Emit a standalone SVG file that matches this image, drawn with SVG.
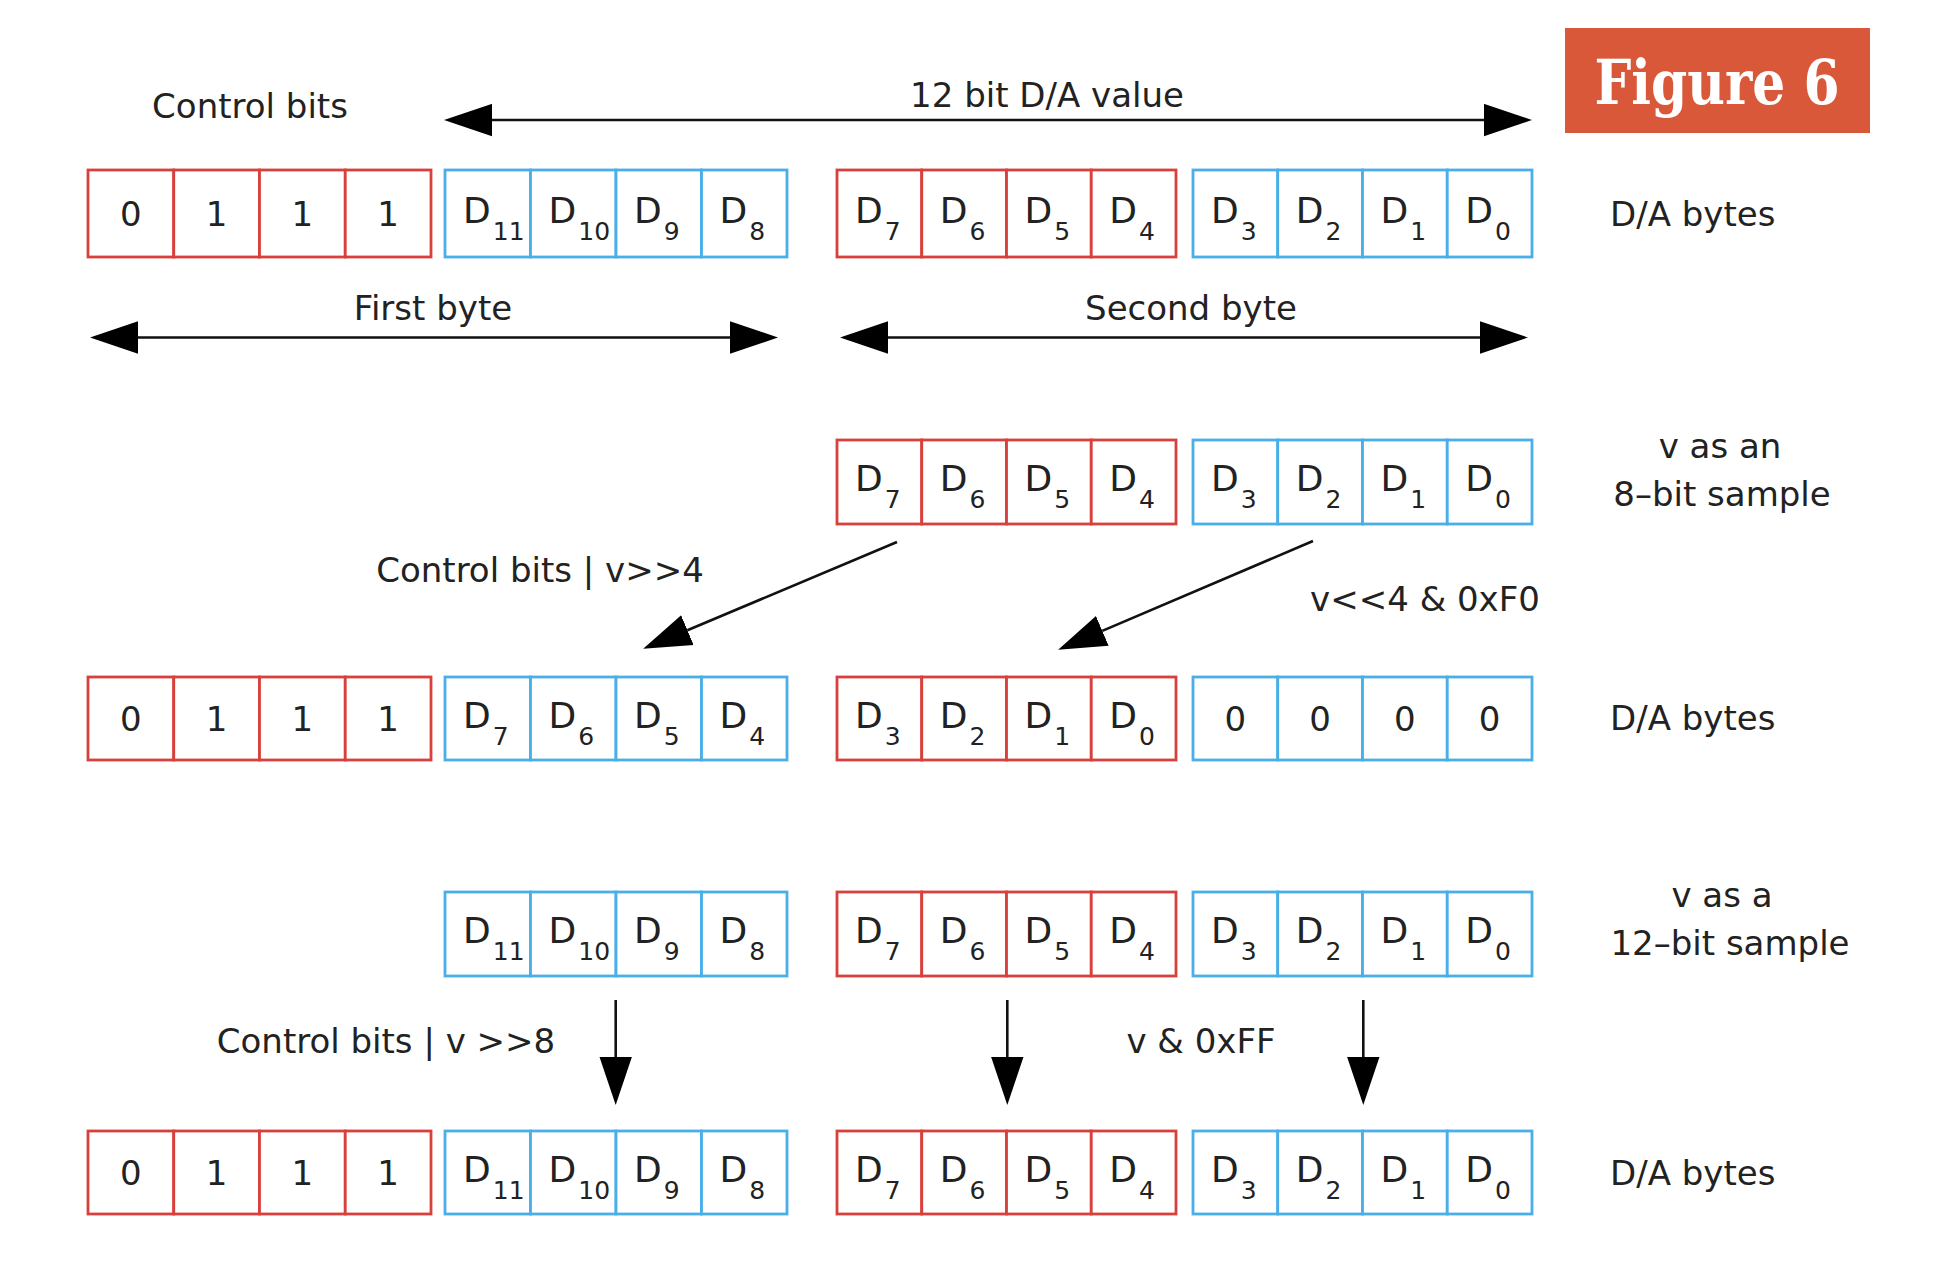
<svg xmlns="http://www.w3.org/2000/svg" width="1938" height="1272" viewBox="0 0 1938 1272">
<style>
.r{fill:#fff;stroke:#d8403c;stroke-width:2.8}
.b{fill:#fff;stroke:#4aaee8;stroke-width:2.8}
text{font-family:"DejaVu Sans","Liberation Sans",sans-serif;fill:#222}
.l{font-size:34px}
.m{text-anchor:middle}
.c{font-size:36px}
.d{font-size:34px;text-anchor:middle}
.s{font-size:25px}
.ln{stroke:#111;stroke-width:2.6;fill:none}
.fig{font-family:"DejaVu Serif","Liberation Serif",serif;font-weight:bold;font-size:62px;fill:#fff}
</style>
<defs>
<marker id="ah" markerUnits="userSpaceOnUse" markerWidth="48" markerHeight="33" viewBox="0 0 46 31" refX="0" refY="15.5" orient="auto-start-reverse">
<path d="M0,0 L46,15.5 L0,31 z" fill="#000"/>
</marker>
</defs>
<rect width="1938" height="1272" fill="#fff"/>

<g id="figure-label">
<rect x="1565" y="28" width="305" height="105" fill="#d95839"/>
<text class="fig" x="1717" y="104" text-anchor="middle" textLength="245" lengthAdjust="spacingAndGlyphs">Figure 6</text>
</g>

<g id="labels">
<text class="l m" x="250" y="118">Control bits</text>
<text class="l m" x="1047" y="107">12 bit D/A value</text>
<text class="l m" x="433" y="320">First byte</text>
<text class="l m" x="1191" y="320">Second byte</text>
<text class="l" x="1610" y="226">D/A bytes</text>
<text class="l m" x="1720" y="458">v as an</text>
<text class="l m" x="1722" y="506">8–bit sample</text>
<text class="l m" x="540" y="582">Control bits | v&gt;&gt;4</text>
<text class="l m" x="1425" y="611">v&lt;&lt;4 &amp; 0xF0</text>
<text class="l" x="1610" y="730">D/A bytes</text>
<text class="l m" x="1722" y="907">v as a</text>
<text class="l m" x="1730" y="955">12–bit sample</text>
<text class="l m" x="386" y="1053">Control bits | v &gt;&gt;8</text>
<text class="l m" x="1201" y="1053">v &amp; 0xFF</text>
<text class="l" x="1610" y="1185">D/A bytes</text>
</g>

<g id="connectors">
<line class="ln" x1="492" y1="120" x2="1484" y2="120" marker-start="url(#ah)" marker-end="url(#ah)"/>
<line class="ln" x1="138" y1="337.5" x2="730" y2="337.5" marker-start="url(#ah)" marker-end="url(#ah)"/>
<line class="ln" x1="888" y1="337.5" x2="1480" y2="337.5" marker-start="url(#ah)" marker-end="url(#ah)"/>
<line class="ln" x1="897" y1="542" x2="687.4" y2="630.2" marker-end="url(#ah)"/>
<line class="ln" x1="1313" y1="541" x2="1102.3" y2="630.9" marker-end="url(#ah)"/>
<line class="ln" x1="615.7" y1="1000" x2="615.7" y2="1057" marker-end="url(#ah)"/>
<line class="ln" x1="1007.3" y1="1000" x2="1007.3" y2="1057" marker-end="url(#ah)"/>
<line class="ln" x1="1363.3" y1="1000" x2="1363.3" y2="1057" marker-end="url(#ah)"/>
</g>

<!-- Row 1 -->
<g id="r1-control">
<rect class="r" x="88" y="170" width="85.75" height="87"/><rect class="r" x="173.75" y="170" width="85.75" height="87"/><rect class="r" x="259.5" y="170" width="85.75" height="87"/><rect class="r" x="345.25" y="170" width="85.75" height="87"/>
<text class="d" x="130.9" y="225.5">0</text><text class="d" x="216.6" y="225.5">1</text><text class="d" x="302.4" y="225.5">1</text><text class="d" x="388.1" y="225.5">1</text>
</g>
<g id="r1-high">
<rect class="b" x="445" y="170" width="85.5" height="87"/><rect class="b" x="530.5" y="170" width="85.5" height="87"/><rect class="b" x="616" y="170" width="85.5" height="87"/><rect class="b" x="701.5" y="170" width="85.5" height="87"/>
<text class="c" x="463" y="223">D<tspan class="s" dx="2" dy="17">11</tspan></text><text class="c" x="548.5" y="223">D<tspan class="s" dx="2" dy="17">10</tspan></text><text class="c" x="634" y="223">D<tspan class="s" dx="2" dy="17">9</tspan></text><text class="c" x="719.5" y="223">D<tspan class="s" dx="2" dy="17">8</tspan></text>
</g>
<g id="r1-mid">
<rect class="r" x="837" y="170" width="84.75" height="87"/><rect class="r" x="921.75" y="170" width="84.75" height="87"/><rect class="r" x="1006.5" y="170" width="84.75" height="87"/><rect class="r" x="1091.25" y="170" width="84.75" height="87"/>
<text class="c" x="855" y="223">D<tspan class="s" dx="2" dy="17">7</tspan></text><text class="c" x="939.75" y="223">D<tspan class="s" dx="2" dy="17">6</tspan></text><text class="c" x="1024.5" y="223">D<tspan class="s" dx="2" dy="17">5</tspan></text><text class="c" x="1109.25" y="223">D<tspan class="s" dx="2" dy="17">4</tspan></text>
</g>
<g id="r1-low">
<rect class="b" x="1193" y="170" width="84.75" height="87"/><rect class="b" x="1277.75" y="170" width="84.75" height="87"/><rect class="b" x="1362.5" y="170" width="84.75" height="87"/><rect class="b" x="1447.25" y="170" width="84.75" height="87"/>
<text class="c" x="1211" y="223">D<tspan class="s" dx="2" dy="17">3</tspan></text><text class="c" x="1295.75" y="223">D<tspan class="s" dx="2" dy="17">2</tspan></text><text class="c" x="1380.5" y="223">D<tspan class="s" dx="2" dy="17">1</tspan></text><text class="c" x="1465.25" y="223">D<tspan class="s" dx="2" dy="17">0</tspan></text>
</g>

<!-- Row 2 -->
<g id="r2-high">
<rect class="r" x="837" y="440" width="84.75" height="84"/><rect class="r" x="921.75" y="440" width="84.75" height="84"/><rect class="r" x="1006.5" y="440" width="84.75" height="84"/><rect class="r" x="1091.25" y="440" width="84.75" height="84"/>
<text class="c" x="855" y="491">D<tspan class="s" dx="2" dy="17">7</tspan></text><text class="c" x="939.75" y="491">D<tspan class="s" dx="2" dy="17">6</tspan></text><text class="c" x="1024.5" y="491">D<tspan class="s" dx="2" dy="17">5</tspan></text><text class="c" x="1109.25" y="491">D<tspan class="s" dx="2" dy="17">4</tspan></text>
</g>
<g id="r2-low">
<rect class="b" x="1193" y="440" width="84.75" height="84"/><rect class="b" x="1277.75" y="440" width="84.75" height="84"/><rect class="b" x="1362.5" y="440" width="84.75" height="84"/><rect class="b" x="1447.25" y="440" width="84.75" height="84"/>
<text class="c" x="1211" y="491">D<tspan class="s" dx="2" dy="17">3</tspan></text><text class="c" x="1295.75" y="491">D<tspan class="s" dx="2" dy="17">2</tspan></text><text class="c" x="1380.5" y="491">D<tspan class="s" dx="2" dy="17">1</tspan></text><text class="c" x="1465.25" y="491">D<tspan class="s" dx="2" dy="17">0</tspan></text>
</g>

<!-- Row 3 -->
<g id="r3-control">
<rect class="r" x="88" y="677" width="85.75" height="83"/><rect class="r" x="173.75" y="677" width="85.75" height="83"/><rect class="r" x="259.5" y="677" width="85.75" height="83"/><rect class="r" x="345.25" y="677" width="85.75" height="83"/>
<text class="d" x="130.9" y="730.5">0</text><text class="d" x="216.6" y="730.5">1</text><text class="d" x="302.4" y="730.5">1</text><text class="d" x="388.1" y="730.5">1</text>
</g>
<g id="r3-high">
<rect class="b" x="445" y="677" width="85.5" height="83"/><rect class="b" x="530.5" y="677" width="85.5" height="83"/><rect class="b" x="616" y="677" width="85.5" height="83"/><rect class="b" x="701.5" y="677" width="85.5" height="83"/>
<text class="c" x="463" y="728">D<tspan class="s" dx="2" dy="17">7</tspan></text><text class="c" x="548.5" y="728">D<tspan class="s" dx="2" dy="17">6</tspan></text><text class="c" x="634" y="728">D<tspan class="s" dx="2" dy="17">5</tspan></text><text class="c" x="719.5" y="728">D<tspan class="s" dx="2" dy="17">4</tspan></text>
</g>
<g id="r3-mid">
<rect class="r" x="837" y="677" width="84.75" height="83"/><rect class="r" x="921.75" y="677" width="84.75" height="83"/><rect class="r" x="1006.5" y="677" width="84.75" height="83"/><rect class="r" x="1091.25" y="677" width="84.75" height="83"/>
<text class="c" x="855" y="728">D<tspan class="s" dx="2" dy="17">3</tspan></text><text class="c" x="939.75" y="728">D<tspan class="s" dx="2" dy="17">2</tspan></text><text class="c" x="1024.5" y="728">D<tspan class="s" dx="2" dy="17">1</tspan></text><text class="c" x="1109.25" y="728">D<tspan class="s" dx="2" dy="17">0</tspan></text>
</g>
<g id="r3-low">
<rect class="b" x="1193" y="677" width="84.75" height="83"/><rect class="b" x="1277.75" y="677" width="84.75" height="83"/><rect class="b" x="1362.5" y="677" width="84.75" height="83"/><rect class="b" x="1447.25" y="677" width="84.75" height="83"/>
<text class="d" x="1235.4" y="730.5">0</text><text class="d" x="1320.1" y="730.5">0</text><text class="d" x="1404.9" y="730.5">0</text><text class="d" x="1489.6" y="730.5">0</text>
</g>

<!-- Row 4 -->
<g id="r4-high">
<rect class="b" x="445" y="892" width="85.5" height="84"/><rect class="b" x="530.5" y="892" width="85.5" height="84"/><rect class="b" x="616" y="892" width="85.5" height="84"/><rect class="b" x="701.5" y="892" width="85.5" height="84"/>
<text class="c" x="463" y="943">D<tspan class="s" dx="2" dy="17">11</tspan></text><text class="c" x="548.5" y="943">D<tspan class="s" dx="2" dy="17">10</tspan></text><text class="c" x="634" y="943">D<tspan class="s" dx="2" dy="17">9</tspan></text><text class="c" x="719.5" y="943">D<tspan class="s" dx="2" dy="17">8</tspan></text>
</g>
<g id="r4-mid">
<rect class="r" x="837" y="892" width="84.75" height="84"/><rect class="r" x="921.75" y="892" width="84.75" height="84"/><rect class="r" x="1006.5" y="892" width="84.75" height="84"/><rect class="r" x="1091.25" y="892" width="84.75" height="84"/>
<text class="c" x="855" y="943">D<tspan class="s" dx="2" dy="17">7</tspan></text><text class="c" x="939.75" y="943">D<tspan class="s" dx="2" dy="17">6</tspan></text><text class="c" x="1024.5" y="943">D<tspan class="s" dx="2" dy="17">5</tspan></text><text class="c" x="1109.25" y="943">D<tspan class="s" dx="2" dy="17">4</tspan></text>
</g>
<g id="r4-low">
<rect class="b" x="1193" y="892" width="84.75" height="84"/><rect class="b" x="1277.75" y="892" width="84.75" height="84"/><rect class="b" x="1362.5" y="892" width="84.75" height="84"/><rect class="b" x="1447.25" y="892" width="84.75" height="84"/>
<text class="c" x="1211" y="943">D<tspan class="s" dx="2" dy="17">3</tspan></text><text class="c" x="1295.75" y="943">D<tspan class="s" dx="2" dy="17">2</tspan></text><text class="c" x="1380.5" y="943">D<tspan class="s" dx="2" dy="17">1</tspan></text><text class="c" x="1465.25" y="943">D<tspan class="s" dx="2" dy="17">0</tspan></text>
</g>

<!-- Row 5 -->
<g id="r5-control">
<rect class="r" x="88" y="1131" width="85.75" height="83"/><rect class="r" x="173.75" y="1131" width="85.75" height="83"/><rect class="r" x="259.5" y="1131" width="85.75" height="83"/><rect class="r" x="345.25" y="1131" width="85.75" height="83"/>
<text class="d" x="130.9" y="1184.5">0</text><text class="d" x="216.6" y="1184.5">1</text><text class="d" x="302.4" y="1184.5">1</text><text class="d" x="388.1" y="1184.5">1</text>
</g>
<g id="r5-high">
<rect class="b" x="445" y="1131" width="85.5" height="83"/><rect class="b" x="530.5" y="1131" width="85.5" height="83"/><rect class="b" x="616" y="1131" width="85.5" height="83"/><rect class="b" x="701.5" y="1131" width="85.5" height="83"/>
<text class="c" x="463" y="1182">D<tspan class="s" dx="2" dy="17">11</tspan></text><text class="c" x="548.5" y="1182">D<tspan class="s" dx="2" dy="17">10</tspan></text><text class="c" x="634" y="1182">D<tspan class="s" dx="2" dy="17">9</tspan></text><text class="c" x="719.5" y="1182">D<tspan class="s" dx="2" dy="17">8</tspan></text>
</g>
<g id="r5-mid">
<rect class="r" x="837" y="1131" width="84.75" height="83"/><rect class="r" x="921.75" y="1131" width="84.75" height="83"/><rect class="r" x="1006.5" y="1131" width="84.75" height="83"/><rect class="r" x="1091.25" y="1131" width="84.75" height="83"/>
<text class="c" x="855" y="1182">D<tspan class="s" dx="2" dy="17">7</tspan></text><text class="c" x="939.75" y="1182">D<tspan class="s" dx="2" dy="17">6</tspan></text><text class="c" x="1024.5" y="1182">D<tspan class="s" dx="2" dy="17">5</tspan></text><text class="c" x="1109.25" y="1182">D<tspan class="s" dx="2" dy="17">4</tspan></text>
</g>
<g id="r5-low">
<rect class="b" x="1193" y="1131" width="84.75" height="83"/><rect class="b" x="1277.75" y="1131" width="84.75" height="83"/><rect class="b" x="1362.5" y="1131" width="84.75" height="83"/><rect class="b" x="1447.25" y="1131" width="84.75" height="83"/>
<text class="c" x="1211" y="1182">D<tspan class="s" dx="2" dy="17">3</tspan></text><text class="c" x="1295.75" y="1182">D<tspan class="s" dx="2" dy="17">2</tspan></text><text class="c" x="1380.5" y="1182">D<tspan class="s" dx="2" dy="17">1</tspan></text><text class="c" x="1465.25" y="1182">D<tspan class="s" dx="2" dy="17">0</tspan></text>
</g>
</svg>
